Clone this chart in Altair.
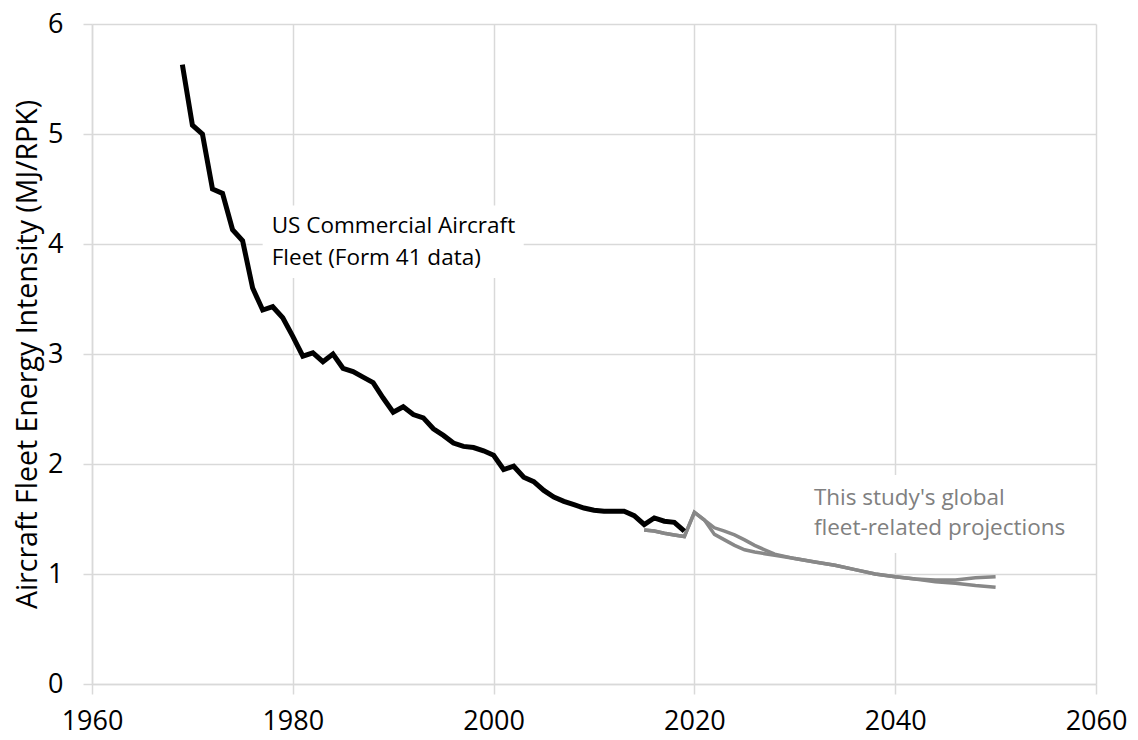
import altair as alt
import pandas as pd

# US Commercial Aircraft Fleet (Form 41 data)
us_years = list(range(1969, 2020))
us_values = [5.63, 5.08, 5.00, 4.50, 4.46, 4.13, 4.03, 3.60, 3.40, 3.43,
             3.33, 3.16, 2.98, 3.01, 2.93, 3.00, 2.87, 2.84, 2.79, 2.74,
             2.60, 2.47, 2.52, 2.45, 2.42, 2.32, 2.26, 2.19, 2.16, 2.15,
             2.12, 2.08, 1.95, 1.98, 1.88, 1.84, 1.76, 1.70, 1.66, 1.63,
             1.60, 1.58, 1.57, 1.57, 1.57, 1.53, 1.45, 1.51, 1.48, 1.47,
             1.39]

# This study's global fleet-related projections (two scenarios)
proj_years = [2015, 2016, 2017, 2018, 2019, 2020, 2021, 2022, 2023, 2024,
              2025, 2026, 2027, 2028, 2030, 2032, 2034, 2036, 2038, 2040,
              2042, 2044, 2046, 2048, 2050]
proj_a = [1.40, 1.39, 1.37, 1.355, 1.34, 1.56, 1.49, 1.42, 1.39, 1.355,
          1.31, 1.26, 1.22, 1.18, 1.14, 1.11, 1.08, 1.04, 1.00, 0.975,
          0.955, 0.945, 0.945, 0.965, 0.975]
proj_b = [1.40, 1.39, 1.37, 1.355, 1.34, 1.56, 1.49, 1.36, 1.31, 1.26,
          1.22, 1.20, 1.185, 1.17, 1.14, 1.11, 1.08, 1.04, 1.00, 0.975,
          0.955, 0.93, 0.915, 0.895, 0.88]

x_ticks = [1960, 1980, 2000, 2020, 2040, 2060]
y_ticks = [0, 1, 2, 3, 4, 5, 6]

# annotations
ann_text = ["US Commercial Aircraft", "Fleet (Form 41 data)",
            "This study's global", "fleet-related projections"]
ann_x = [1977.9, 1977.9, 2031.9, 2031.9]
ann_y = [4.16, 3.87, 1.69, 1.42]
ann_group = ["us", "us", "proj", "proj"]

box_x = [1977.0, 2031.0]
box_x2 = [2003.0, 2058.0]
box_y = [4.35, 1.90]
box_y2 = [3.69, 1.19]

FONT = "Open Sans"
GRID = "#d9d9d9"

us_df = pd.DataFrame({"year": us_years, "value": us_values})
proj_df = pd.concat([
    pd.DataFrame({"year": proj_years, "value": proj_a, "scenario": "A"}),
    pd.DataFrame({"year": proj_years, "value": proj_b, "scenario": "B"}),
])
ann_df = pd.DataFrame({"text": ann_text, "x": ann_x, "y": ann_y, "group": ann_group})
box_df = pd.DataFrame({"x": box_x, "x2": box_x2, "y": box_y, "y2": box_y2})

x_scale = alt.Scale(domain=[1960, 2060], nice=False, zero=False)
y_scale = alt.Scale(domain=[0, 6], nice=False)

x_axis = alt.Axis(values=x_ticks, format="d", title=None, grid=True,
                  gridColor=GRID, gridWidth=1.5, domainColor=GRID, domainWidth=1.5,
                  tickColor=GRID, tickWidth=1.5, tickSize=10,
                  labelFont=FONT, labelFontSize=27, labelColor="black",
                  labelPadding=14, labelFlush=False, labelOverlap=False)
y_axis = alt.Axis(values=y_ticks, format="d", title="Aircraft Fleet Energy Intensity (MJ/RPK)",
                  grid=True, gridColor=GRID, gridWidth=1.5, domainColor=GRID, domainWidth=1.5,
                  tickColor=GRID, tickWidth=1.5, tickSize=9,
                  labelFont=FONT, labelFontSize=27, labelColor="black", labelPadding=20,
                  labelFlush=False, labelOverlap=False,
                  titleFont=FONT, titleFontSize=28.5, titleFontWeight="normal", titleColor="black",
                  titleAngle=-90, titleX=-65, titleY=330, titleAlign="center",
                  titleBaseline="middle")

boxes = alt.Chart(box_df).mark_rect(color="white").encode(
    x=alt.X("x:Q", scale=x_scale, axis=x_axis),
    x2="x2:Q",
    y=alt.Y("y:Q", scale=y_scale, axis=y_axis),
    y2="y2:Q",
)

us_line = alt.Chart(us_df).mark_line(color="black", strokeWidth=5, strokeJoin="miter").encode(
    x=alt.X("year:Q", scale=x_scale),
    y=alt.Y("value:Q", scale=y_scale),
)

proj_line = alt.Chart(proj_df).mark_line(color="#888888", strokeWidth=3.5).encode(
    x=alt.X("year:Q", scale=x_scale),
    y=alt.Y("value:Q", scale=y_scale),
    detail="scenario:N",
)

texts = alt.Chart(ann_df).mark_text(align="left", baseline="middle", font=FONT, fontSize=22.5).encode(
    x=alt.X("x:Q", scale=x_scale),
    y=alt.Y("y:Q", scale=y_scale),
    text="text:N",
    color=alt.Color("group:N", scale=alt.Scale(domain=["us", "proj"], range=["black", "#808080"]),
                    legend=None),
)

chart = alt.layer(boxes, proj_line, us_line, texts).properties(
    width=1004, height=660,
    autosize=alt.AutoSizeParams(type="none"),
    padding={"left": 92, "top": 24, "right": 42, "bottom": 56},
    background="white",
).configure_view(stroke=None)

chart.save("out.html", embed_options={"renderer": "svg", "actions": False})
